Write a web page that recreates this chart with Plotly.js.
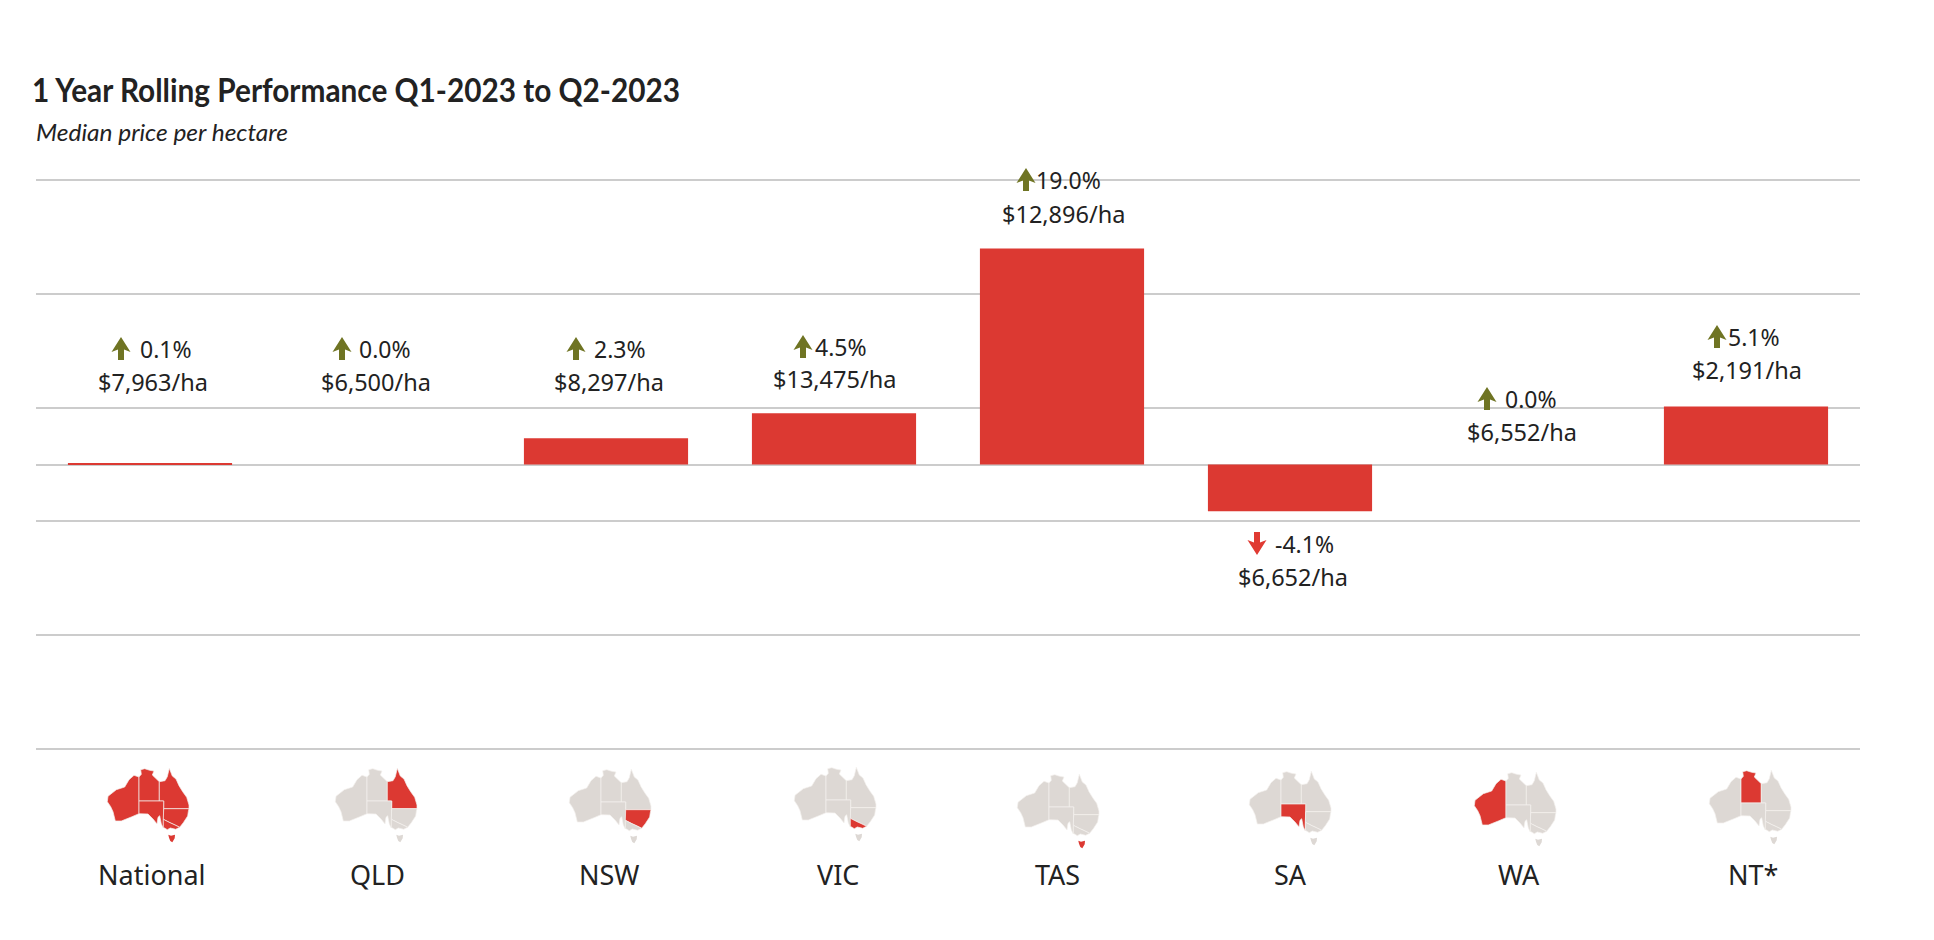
<!DOCTYPE html>
<html>
<head>
<meta charset="utf-8">
<script src="https://cdn.plot.ly/plotly-3.0.1.min.js"></script>
<style>
html, body { margin: 0; padding: 0; background: #fff; }
</style>
</head>
<body>
<div id="perf_graph" style="width:1934px;height:940px;"></div>
<script>
/**
 * Data
 */
const regions = ["National", "QLD", "NSW", "VIC", "TAS", "SA", "WA", "NT*"];
const change_pct = [0.1, 0.0, 2.3, 4.5, 19.0, -4.1, 0.0, 5.1];
const median_price = [7963, 6500, 8297, 13475, 12896, 6652, 6552, 2191];
const grid_ticks = [-25, -15, -5, 5, 15, 25];

/**
 * Colors
 */
const red = "#DC3932";
const olive = "#6F7423";
const mapGrey = "#DDD8D4";
const gridColor = "#CCCCCC";
const textColor = "#222222";
const bodyFont = "Noto Sans";
const titleFont = "Lato";

/**
 * Hand placement of the labels, px from the chart's own positions.
 * Columns are 228px wide and the labels don't sit exactly on them.
 */
const priceShiftX = [3, -2, 3, 0, 1, 3, 4, 1];
const priceRise = [83, 83, 83, 86, 251, -112, 33, 95];
const pctRise = [116, 116, 116, 118, 285, -79, 66, 128];
const pctLeft = [-12, -21, -14, -21, -28, -17, -15, -20];
const arrowShiftX = [-29, -36, -30, -31, -36, -33, -31, -29];
const mapShiftX = [-2, -2, 4, 1, -4, 0, -3, 4];
const mapDrop = [15, 15, 16, 14, 21, 18, 19, 17];
const nameShiftX = [2, -1, 3, 4, -5, 0, 1, 7];

/**
 * Map outline per state, traced at 3x from the icon
 */
const statePaths = {
    WA: [[118,36],[103,31],[88,44],[75,66],[50,74],[25,94],[23,110],[33,125],[40,140],[47,168],[65,168],[95,156],[118,146]],
    NT: [[118,108],[118,36],[125,28],[123,14],[135,11],[150,16],[163,18],[158,30],[168,40],[179,50],[179,108]],
    QLD: [[179,108],[179,50],[196,47],[203,35],[209,10],[218,33],[229,42],[238,62],[249,80],[261,97],[268,120],[268,131],[192,131],[192,108]],
    SA: [[118,108],[192,108],[191,189],[185,177],[180,152],[175,157],[172,177],[160,162],[145,147],[118,146]],
    NSW: [[192,131],[268,131],[266,140],[264,153],[251,173],[240,187],[226,180],[211,173],[191,163]],
    VIC: [[191,163],[211,173],[226,180],[240,187],[228,193],[212,189],[203,194],[191,187]],
    TAS: [[206,209],[214,212],[226,209],[225,220],[218,232],[212,228],[208,218]]
};

function polyToPath(poly, dropPx) {
    let parts = poly.map(function (p) {
        return ((p[0] - 145) / 3).toFixed(1) + "," + (-(dropPx + p[1] / 3)).toFixed(1);
    });
    return "M" + parts.join("L") + "Z";
}

/**
 * Arrow with its tip on top, 19px wide and 23px tall, centred on cx
 */
function arrowPath(cx, rise, up) {
    let s = up ? 1 : -1;
    let pts = [[0, 11.5], [9.5, -3.5], [3, -1], [3, -11.5], [-3, -11.5], [-3, -1], [-9.5, -3.5]];
    return "M" + pts.map(function (p) {
        return (cx + p[0]) + "," + (rise + s * p[1]);
    }).join("L") + "Z";
}

function perfChart() {
    var data = [{
        type: "bar",
        x: regions,
        y: change_pct,
        width: 0.72,
        marker: {color: red, line: {width: 0}},
        hoverinfo: "x+y"
    }];

    var annotations = [];
    var shapes = [];

    annotations.push({
        xref: "paper", yref: "paper", x: 0, y: 1, xanchor: "left", yanchor: "middle",
        yshift: 48, showarrow: false,
        text: "Median price per hectare",
        font: {family: titleFont, size: 24, style: "italic", color: textColor}
    });

    regions.forEach(function (name, i) {
        let price = "$" + median_price[i].toLocaleString("en-US") + "/ha";
        let up = change_pct[i] >= 0;

        annotations.push({
            x: name, y: 0, yref: "y", xshift: priceShiftX[i], yshift: priceRise[i],
            showarrow: false, text: price,
            font: {family: bodyFont, size: 23.5, color: textColor}
        });
        annotations.push({
            x: name, y: 0, yref: "y", xshift: pctLeft[i], yshift: pctRise[i], xanchor: "left",
            showarrow: false, text: change_pct[i].toFixed(1) + "%",
            font: {family: bodyFont, size: 23, color: textColor}
        });
        annotations.push({
            x: name, xref: "x", yref: "paper", y: 0, yanchor: "middle",
            xshift: nameShiftX[i], yshift: -124, showarrow: false, text: name,
            font: {family: bodyFont, size: 27, color: textColor}
        });

        // yref paper so the arrow above the top gridline isn't clipped, 0.5 is the zero line
        shapes.push({
            type: "path", xref: "x", yref: "paper", xsizemode: "pixel", ysizemode: "pixel",
            xanchor: name, yanchor: 0.5,
            path: arrowPath(arrowShiftX[i], pctRise[i], up),
            fillcolor: up ? olive : "#E03A32", line: {width: 0}
        });

        // one small map per column, this column's state(s) in red
        Object.keys(statePaths).forEach(function (st) {
            let hit = name === "National" || name.replace("*", "") === st;
            shapes.push({
                type: "path", xref: "x", yref: "paper", xsizemode: "pixel", ysizemode: "pixel",
                xanchor: name, yanchor: 0,
                path: polyToPath(statePaths[st].map(function (p) {
                    return [p[0] + mapShiftX[i] * 3, p[1]];
                }), mapDrop[i]),
                fillcolor: hit ? red : mapGrey,
                line: {color: "#F3F0EE", width: st === "TAS" ? 0 : 0.7}
            });
        });
    });

    var layout = {
        width: 1934,
        height: 940,
        paper_bgcolor: "#fff",
        plot_bgcolor: "#fff",
        showlegend: false,
        title: {
            text: "1 Year Rolling Performance Q1-2023 to Q2-2023",
            font: {family: titleFont, size: 32, weight: 700, color: textColor},
            x: 32 / 1934, xanchor: "left", xref: "container",
            y: 1 - 91 / 940, yanchor: "middle", yref: "container"
        },
        xaxis: {
            type: "category",
            categoryorder: "array",
            categoryarray: regions,
            range: [-0.5, 7.5],
            showticklabels: false,
            showgrid: false,
            zeroline: false,
            showline: false,
            ticks: ""
        },
        yaxis: {
            // a hair past +-25, gridlines sitting exactly on the range ends get dropped
            range: [-25.1, 25.1],
            tickvals: grid_ticks,
            showticklabels: false,
            gridcolor: gridColor,
            gridwidth: 2,
            zeroline: true,
            zerolinecolor: gridColor,
            zerolinewidth: 2,
            ticks: ""
        },
        margin: {l: 36, r: 74, t: 179, b: 190, pad: 0},
        annotations: annotations,
        shapes: shapes
    };

    Plotly.newPlot("perf_graph", data, layout, {displayModeBar: false}).then(function () {
        // no condensed font installed, squeeze the two headings to the original widths
        var titleEl = document.querySelector("#perf_graph .gtitle");
        titleEl.setAttribute("textLength", 648);
        titleEl.setAttribute("lengthAdjust", "spacingAndGlyphs");

        var subEl = document.querySelector("#perf_graph .annotation-text");
        var w = subEl.getComputedTextLength();
        subEl.setAttribute("x", parseFloat(subEl.getAttribute("x")) - w / 2 - 2);
        subEl.setAttribute("text-anchor", "start");
        subEl.setAttribute("textLength", 252);
        subEl.setAttribute("lengthAdjust", "spacingAndGlyphs");
    });
}

perfChart();
</script>
</body>
</html>
